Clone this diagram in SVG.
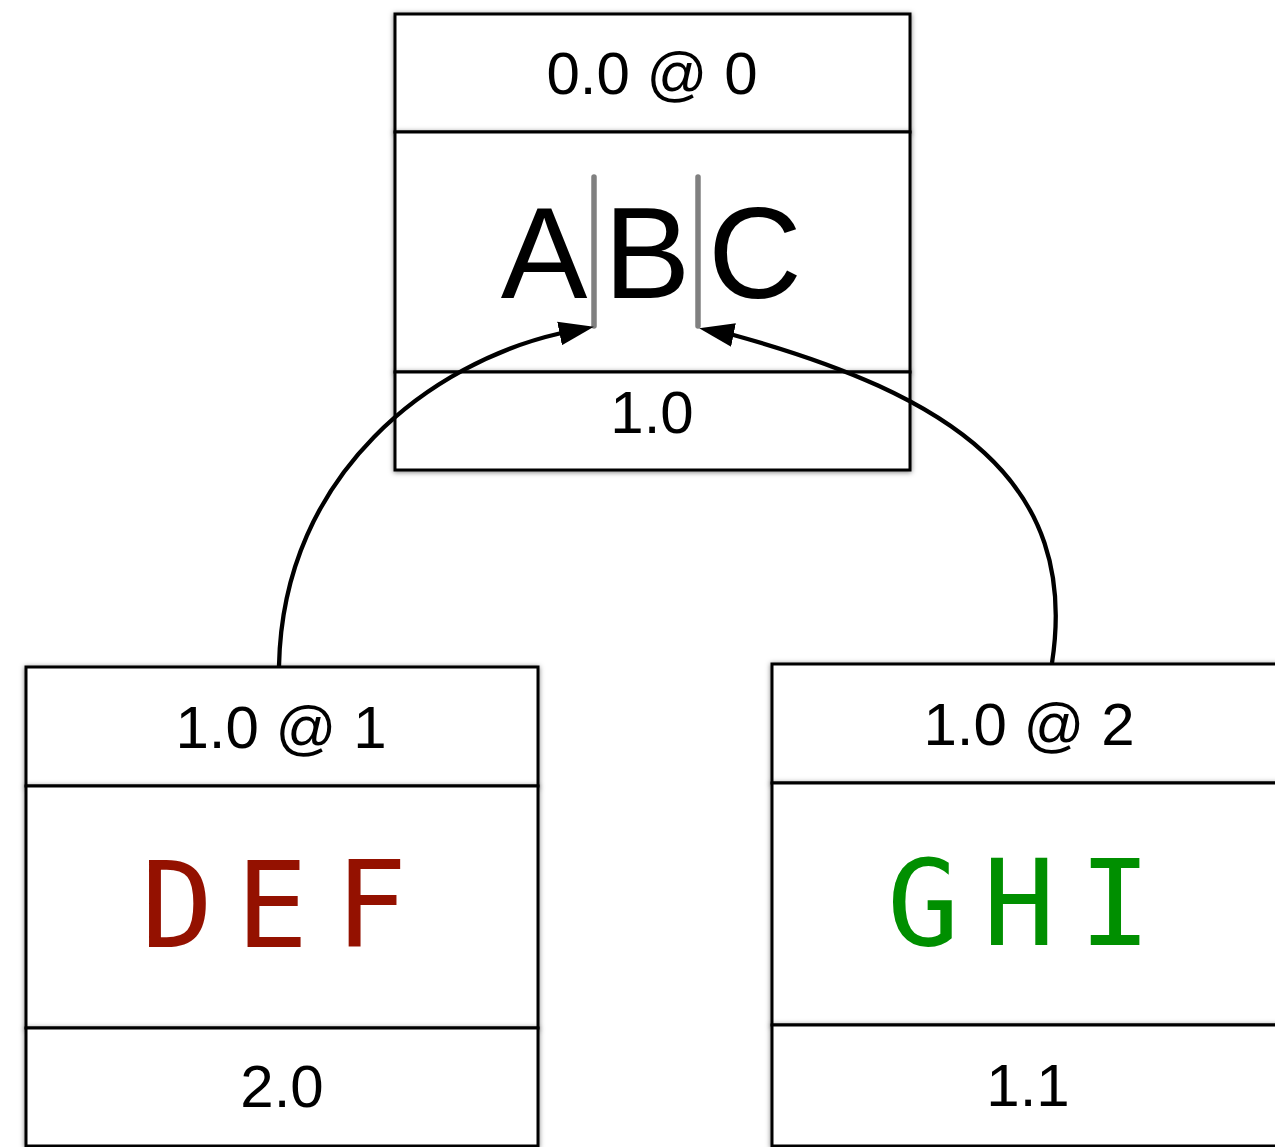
<svg xmlns="http://www.w3.org/2000/svg" width="1275" height="1147" viewBox="0 0 1275 1147">
  <defs>
    <filter id="soft-shadow" x="-10%" y="-10%" width="120%" height="120%">
      <feDropShadow dx="0" dy="1" stdDeviation="2.5" flood-color="#000" flood-opacity="0.5"/>
    </filter>
    <marker id="arrow" markerUnits="userSpaceOnUse" markerWidth="36" markerHeight="26" refX="2" refY="12" orient="auto" viewBox="0 0 36 24">
      <path d="M0,0 L35,12 L0,24 Z" fill="#000"/>
    </marker>
    <style>
      .cell { fill: #fff; stroke: #000; stroke-width: 3; filter: url(#soft-shadow); }
      .label { font-family: "Liberation Sans", Arial, Helvetica, sans-serif; font-size: 60px; fill: #000; text-anchor: middle; }
      .big { font-family: "Liberation Sans", Arial, Helvetica, sans-serif; font-size: 130px; fill: #000; text-anchor: middle; }
      .mono { font-family: "DejaVu Sans Mono", "Liberation Mono", monospace; font-size: 120px; text-anchor: middle; }
      .red { fill: #941100; }
      .green { fill: #008f00; }
      .cursor { stroke: #808080; stroke-width: 5.5; stroke-linecap: round; }
      .edge { fill: none; stroke: #000; stroke-width: 4.3; marker-end: url(#arrow); }
    </style>
  </defs>
  <rect width="1275" height="1147" fill="#fff"/>

  <!-- root node -->
  <g id="node-abc">
    <rect class="cell" x="395" y="14" width="515" height="118"/>
    <rect class="cell" x="395" y="132" width="515" height="240"/>
    <rect class="cell" x="395" y="372" width="515" height="98"/>
    <text class="label" x="652" y="94">0.0 @ 0</text>
    <text class="big" x="544" y="298">A</text>
    <text class="big" x="647" y="298">B</text>
    <text class="big" x="755" y="298">C</text>
    <line class="cursor" x1="594" y1="177" x2="594" y2="326"/>
    <line class="cursor" x1="698" y1="177" x2="698" y2="326"/>
    <text class="label" x="652" y="433">1.0</text>
  </g>

  <!-- left child -->
  <g id="node-def">
    <rect class="cell" x="26" y="667" width="512" height="119"/>
    <rect class="cell" x="26" y="786" width="512" height="242"/>
    <rect class="cell" x="26" y="1028" width="512" height="118"/>
    <text class="label" x="281" y="748">1.0 @ 1</text>
    <text class="mono red" x="177" y="947">D</text>
    <text class="mono red" x="272" y="947">E</text>
    <text class="mono red" x="371" y="947">F</text>
    <text class="label" x="282" y="1107">2.0</text>
  </g>

  <!-- right child -->
  <g id="node-ghi">
    <rect class="cell" x="772" y="664" width="512" height="119"/>
    <rect class="cell" x="772" y="783" width="512" height="242"/>
    <rect class="cell" x="772" y="1025" width="512" height="121"/>
    <text class="label" x="1029" y="745">1.0 @ 2</text>
    <text class="mono green" x="923" y="945">G</text>
    <text class="mono green" x="1019" y="945">H</text>
    <text class="mono green" x="1115" y="945">I</text>
    <text class="label" x="1028" y="1106">1.1</text>
  </g>

  <!-- connectors -->
  <g id="edges">
    <path class="edge" d="M279,666 C283,470 435,362 559.5,333.5 L561.5,333.1"/>
    <path class="edge" d="M1052,663 C1080,480 950,395 733.5,335 L731.5,334.6"/>
  </g>
</svg>
